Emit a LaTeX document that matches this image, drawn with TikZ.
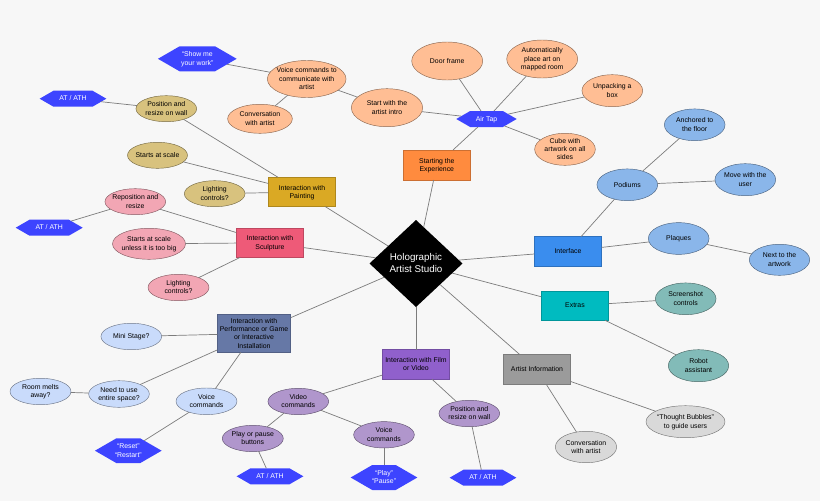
\documentclass[tikz,border=0pt]{standalone}
\usepackage{fontspec}
\setmainfont{Liberation Sans}
\usetikzlibrary{shapes.geometric,shapes.symbols}
\definecolor{bgc}{HTML}{F7F7F7}
\definecolor{linec}{HTML}{7C7C7C}
\definecolor{cOrange}{HTML}{FFBE94}
\definecolor{cTan}{HTML}{D8C27E}
\definecolor{cPink}{HTML}{F2A6B4}
\definecolor{cBlue}{HTML}{8AB6EA}
\definecolor{cTeal}{HTML}{82BBB8}
\definecolor{cGrey}{HTML}{D9D9D9}
\definecolor{cPurple}{HTML}{B096CC}
\definecolor{cPale}{HTML}{C9DBFB}
\definecolor{cHex}{HTML}{3D44FF}
\definecolor{bPaint}{HTML}{DAA924}
\definecolor{bSculpt}{HTML}{EE5A78}
\definecolor{bStart}{HTML}{FF8B3E}
\definecolor{bIface}{HTML}{3A8DEE}
\definecolor{bExtra}{HTML}{00BBC0}
\definecolor{bPerf}{HTML}{6678A6}
\definecolor{bFilm}{HTML}{9060CC}
\definecolor{bInfo}{HTML}{9B9B9B}
\newcommand{\Zt}[1]{\raisebox{-4.7pt}{\smash{\makebox[0pt]{\fontsize{6.9}{8.3}\selectfont\begin{tabular}{@{}c@{}}#1\end{tabular}}}}}
\tikzset{
  base/.style={inner sep=0pt,outer sep=0pt,line width=0.45pt,text=black},
  oval/.style={base,ellipse,fill=#1,draw=#1!55!black},
  box/.style={base,rectangle,fill=#1,draw=#1!80!black},
  hexa/.style={base,signal,signal to=west and east,signal pointer angle=60,fill=cHex,draw=none,text=white},
  link/.style={draw=linec,line width=0.7pt},
  sz/.style n args={2}{minimum width=#1pt,minimum height=#2pt}
}
\begin{document}
\begin{tikzpicture}[x=1pt,y=-1pt]
\path[fill=bgc,use as bounding box] (0,0) rectangle (820,501);

\node[base,diamond,fill=black,minimum width=93pt,minimum height=87pt,aspect=1.07,text=white] (hub) at (416,263.5)
  {\raisebox{-5.4pt}{\smash{\makebox[0pt]{\fontsize{9.8}{12.2}\selectfont\begin{tabular}{@{}c@{}}Holographic\\Artist Studio\end{tabular}}}}};

% main boxes
\node[box=bPaint,sz={67.4}{29.4}] (paint) at (302,192) {\Zt{Interaction with\\Painting}};
\node[box=bSculpt,sz={67.4}{29}] (sculpt) at (270,242.8) {\Zt{Interaction with\\Sculpture}};
\node[box=bStart,sz={67.7}{30}] (start) at (436.8,165) {\Zt{Starting the\\Experience}};
\node[box=bIface,sz={67.4}{29.3}] (iface) at (568,251.3) {\Zt{Interface}};
\node[box=bExtra,sz={67.4}{29.3}] (extra) at (575,305.7) {\Zt{Extras}};
\node[box=bPerf,sz={73.4}{37.6}] (perf) at (254,333.5) {\Zt{Interaction with\\Performance or Game\\or Interactive\\Installation}};
\node[box=bFilm,sz={67.4}{29.6}] (film) at (416,364.5) {\Zt{Interaction with Film\\or Video}};
\node[box=bInfo,sz={67.4}{30}] (info) at (537,369.7) {\Zt{Artist Information}};

% starting the experience
\node[hexa,sz={60.4}{16}] (airtap) at (486.5,119) {\Zt{Air Tap}};
\node[oval=cOrange,sz={71.3}{38}] (intro) at (387,107.7) {\Zt{Start with the\\artist intro}};
\node[oval=cOrange,sz={78.7}{37}] (voice) at (306.7,79) {\Zt{Voice commands to\\communicate with\\artist}};
\node[oval=cOrange,sz={64.7}{29}] (conv) at (260,118.8) {\Zt{Conversation\\with artist}};
\node[hexa,sz={78.7}{25}] (show) at (197.3,58.8) {\Zt{“Show me\\your work”}};
\node[oval=cOrange,sz={71}{38}] (door) at (447.2,61) {\Zt{Door frame}};
\node[oval=cOrange,sz={71}{38}] (auto) at (542.2,59) {\Zt{Automatically\\place art on\\mapped room}};
\node[oval=cOrange,sz={60.7}{32}] (unpack) at (612.3,90.7) {\Zt{Unpacking a\\box}};
\node[oval=cOrange,sz={60.7}{32}] (cube) at (565,149.3) {\Zt{Cube with\\artwork on all\\sides}};

% painting
\node[oval=cTan,sz={60.7}{26}] (ppos) at (166.3,108.7) {\Zt{Position and\\resize on wall}};
\node[hexa,sz={66.7}{16}] (pat) at (73,98.7) {\Zt{AT / ATH}};
\node[oval=cTan,sz={60}{26}] (pscale) at (157.5,155.3) {\Zt{Starts at scale}};
\node[oval=cTan,sz={60.7}{26}] (plight) at (214.7,193.7) {\Zt{Lighting\\controls?}};

% sculpture
\node[oval=cPink,sz={60.7}{26}] (srepo) at (135.3,201.7) {\Zt{Reposition and\\resize}};
\node[hexa,sz={67}{16}] (sat) at (49.2,227.7) {\Zt{AT / ATH}};
\node[oval=cPink,sz={73}{31}] (sscale) at (149,243.8) {\Zt{Starts at scale\\unless it is too big}};
\node[oval=cPink,sz={61}{26.4}] (slight) at (178.5,287.5) {\Zt{Lighting\\controls?}};

% interface
\node[oval=cBlue,sz={60.7}{31.7}] (pod) at (627.3,184.8) {\Zt{Podiums}};
\node[oval=cBlue,sz={60.7}{31.7}] (anch) at (694.7,124.8) {\Zt{Anchored to\\the floor}};
\node[oval=cBlue,sz={60.7}{32}] (move) at (745.3,179.7) {\Zt{Move with the\\user}};
\node[oval=cBlue,sz={60.7}{31.7}] (plaq) at (678.7,238.5) {\Zt{Plaques}};
\node[oval=cBlue,sz={60.4}{31}] (next) at (779.5,259.8) {\Zt{Next to the\\artwork}};

% extras
\node[oval=cTeal,sz={60.7}{31.7}] (shot) at (685.7,298.8) {\Zt{Screenshot\\controls}};
\node[oval=cTeal,sz={60.4}{32}] (robot) at (698.5,365.7) {\Zt{Robot\\assistant}};

% artist information
\node[oval=cGrey,sz={79}{32}] (bubble) at (685.5,421.7) {\Zt{“Thought Bubbles”\\to guide users}};
\node[oval=cGrey,sz={61.3}{31.4}] (iconv) at (586,447) {\Zt{Conversation\\with artist}};

% film
\node[oval=cPurple,sz={60.7}{26.4}] (fpos) at (469.3,413.5) {\Zt{Position and\\resize on wall}};
\node[hexa,sz={66.7}{16}] (fat) at (483,477.7) {\Zt{AT / ATH}};
\node[oval=cPurple,sz={60.7}{26.3}] (fvoice) at (384,434.8) {\Zt{Voice\\commands}};
\node[hexa,sz={66.7}{25}] (fplay) at (384,477.5) {\Zt{“Play”\\“Pause”}};
\node[oval=cPurple,sz={60.7}{26.3}] (fvideo) at (298.3,401.5) {\Zt{Video\\commands}};
\node[oval=cPurple,sz={61}{26.3}] (fbtn) at (252.8,438.5) {\Zt{Play or pause\\buttons}};
\node[hexa,sz={66.7}{16}] (fbat) at (270,476.3) {\Zt{AT / ATH}};

% performance
\node[oval=cPale,sz={61}{26.6}] (gvoice) at (206.5,401.3) {\Zt{Voice\\commands}};
\node[hexa,sz={66.7}{24.7}] (greset) at (128.3,450.7) {\Zt{“Reset”\\“Restart”}};
\node[oval=cPale,sz={60.7}{26.6}] (gneed) at (119,394) {\Zt{Need to use\\entire space?}};
\node[oval=cPale,sz={61}{26.4}] (groom) at (40.5,391.5) {\Zt{Room melts\\away?}};
\node[oval=cPale,sz={60.7}{26.4}] (gmini) at (131.3,336.5) {\Zt{Mini Stage?}};

\foreach \a/\b in {hub/paint,hub/sculpt,hub/start,hub/iface,hub/extra,hub/perf,hub/film,hub/info,
  start/airtap,airtap/intro,airtap/door,airtap/auto,airtap/unpack,airtap/cube,
  intro/voice,voice/conv,voice/show,
  paint/ppos,ppos/pat,paint/pscale,paint/plight,
  sculpt/srepo,srepo/sat,sculpt/sscale,sculpt/slight,
  iface/pod,pod/anch,pod/move,iface/plaq,plaq/next,
  extra/shot,extra/robot,info/bubble,info/iconv,
  film/fpos,fpos/fat,film/fvideo,fvideo/fvoice,fvoice/fplay,fvideo/fbtn,fbtn/fbat,
  perf/gvoice,gvoice/greset,perf/gneed,gneed/groom,perf/gmini}
  {\draw[link] (\a) -- (\b);}
\end{tikzpicture}
\end{document}
